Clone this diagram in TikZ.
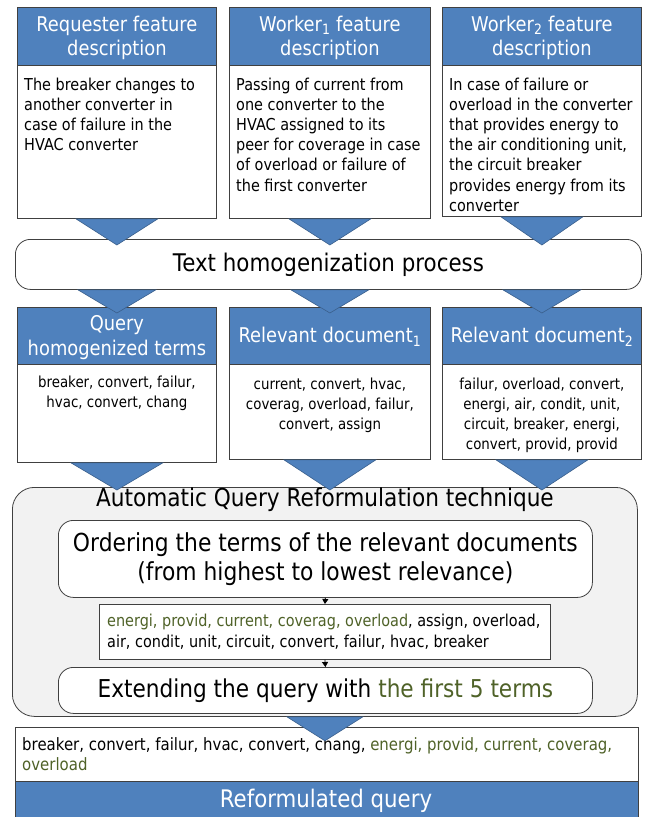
\documentclass[tikz,border=0pt]{standalone}
\usepackage{fontspec}
\setmainfont[FakeStretch=0.88]{DejaVu Sans}
\usetikzlibrary{arrows.meta,calc}
\definecolor{hblue}{HTML}{4F81BD}
\definecolor{tedge}{HTML}{3A5F8C}
\definecolor{tgreen}{HTML}{4F6228}
\definecolor{edge}{HTML}{404040}
\definecolor{lgray}{HTML}{F2F2F2}
\begin{document}
\begin{tikzpicture}[x=1pt,y=-1pt,
  hdr/.style={draw=edge, fill=hblue, text=white, line width=0.8pt, inner sep=0pt,
    align=center, anchor=north west, font=\fontsize{20.3}{24.5}\selectfont},
  bodybox/.style={draw=edge, fill=white, line width=0.8pt, inner sep=0pt, anchor=north west},
  btext/.style={inner sep=0pt, align=left, anchor=north west, font=\fontsize{16.4}{20.2}\selectfont},
  ttext/.style={inner sep=0pt, align=center, anchor=north, font=\fontsize{15.2}{19.8}\selectfont},
  rbox/.style={draw=edge, fill=white, rounded corners=15pt, line width=0.8pt, inner sep=0pt, anchor=north west},
  tri/.style={fill=hblue, draw=tedge, line width=0.6pt, line join=miter},
  small/.style={-{Triangle[width=6pt,length=5pt]}, line width=0.8pt, black}
]
\useasboundingbox (0,0) rectangle (650,817);
\fill[white] (0,0) rectangle (650,817);

% ---- first row
\node[hdr, minimum width=199pt, minimum height=58pt] (h1) at (17,7) {\rule{0pt}{18pt}Requester feature\\description};
\node[hdr, minimum width=201pt, minimum height=58pt] (h2) at (229,7) {\rule{0pt}{18pt}Worker\textsubscript{1} feature\\description};
\node[hdr, minimum width=199pt, minimum height=58pt] (h3) at (442,7) {\rule{0pt}{18pt}Worker\textsubscript{2} feature\\description};
\node[bodybox, minimum width=199pt, minimum height=153pt] (b1) at (17,65) {};
\node[bodybox, minimum width=201pt, minimum height=153pt] (b2) at (229,65) {};
\node[bodybox, minimum width=199pt, minimum height=151pt] (b3) at (442,65) {};
\node[btext] (t1) at ($(b1.north west)+(7,12.5)$) {The breaker changes to\\another converter in\\case of failure in the\\HVAC converter};
\node[btext] (t2) at ($(b2.north west)+(7,12.5)$) {Passing of current from\\one converter to the\\HVAC assigned to its\\peer for coverage in case\\of overload or failure of\\the first converter};
\node[btext] (t3) at ($(b3.north west)+(7,12.5)$) {In case of failure or\\overload in the converter\\that provides energy to\\the air conditioning unit,\\the circuit breaker\\provides energy from its\\converter};

% ---- text homogenization
\node[rbox, minimum width=626pt, minimum height=50pt, font=\fontsize{24.3}{28}\selectfont] (th) at (15,239) {Text homogenization process};

% ---- second row
\node[hdr, minimum width=199pt, minimum height=57pt] (h4) at (17,307) {\rule{0pt}{18pt}Query\\homogenized terms};
\node[hdr, minimum width=201pt, minimum height=57pt] (h5) at (229,307) {\rule{0pt}{17pt}Relevant document\textsubscript{1}};
\node[hdr, minimum width=199pt, minimum height=57pt] (h6) at (442,307) {\rule{0pt}{17pt}Relevant document\textsubscript{2}};
\node[bodybox, minimum width=199pt, minimum height=98pt] (b4) at (17,364) {};
\node[bodybox, minimum width=201pt, minimum height=95pt] (b5) at (229,364) {};
\node[bodybox, minimum width=199pt, minimum height=95pt] (b6) at (442,364) {};
\node[ttext] (t4) at ($(b4.north)+(0,12)$) {breaker, convert, failur,\\hvac, convert, chang};
\node[ttext] (t5) at ($(b5.north)+(0,14)$) {current, convert, hvac,\\coverag, overload, failur,\\convert, assign};
\node[ttext] (t6) at ($(b6.north)+(0,14)$) {failur, overload, convert,\\energi, air, condit, unit,\\circuit, breaker, energi,\\convert, provid, provid};

% ---- automatic query reformulation
\node[draw=edge, fill=lgray, rounded corners=22pt, line width=0.8pt, inner sep=0pt,
  anchor=north west, minimum width=625pt, minimum height=229pt] (arq) at (12,487) {};
\node[inner sep=0pt, anchor=north, font=\fontsize{24.6}{28}\selectfont] (arqt) at ($(arq.north)+(0,1)$) {Automatic Query Reformulation technique};
\node[rbox, minimum width=534pt, minimum height=77pt, align=center,
  font=\fontsize{24.8}{29}\selectfont] (ord) at (58,520) {Ordering the terms of the relevant documents\\(from highest to lowest relevance)};
\node[draw=edge, fill=white, line width=0.8pt, inner sep=0pt, anchor=north west,
  minimum width=451pt, minimum height=55pt] (lst) at (99,604) {};
\node[btext, font=\fontsize{16.4}{21}\selectfont] (lstt) at ($(lst.north west)+(8,10)$) {\textcolor{tgreen}{energi, provid, current, coverag, overload}, assign, overload,\\air, condit, unit, circuit, convert, failur, hvac, breaker};
\node[rbox, minimum width=534pt, minimum height=46pt, font=\fontsize{24.6}{29}\selectfont] (ext) at (58,667) {Extending the query with \textcolor{tgreen}{the first 5 terms}};
\draw[small] (ord.south) -- (lst.north);
\draw[small] (lst.south) -- (ext.north);

% ---- result
\node[bodybox, minimum width=623pt, minimum height=54pt] (res) at (15,727) {};
\node[btext, font=\fontsize{17}{20.5}\selectfont] (rest) at ($(res.north west)+(7,10)$) {breaker, convert, failur, hvac, convert, chang, \textcolor{tgreen}{energi, provid, current, coverag,}\\\textcolor{tgreen}{overload}};
\node[draw=edge, fill=hblue, line width=0.8pt, inner sep=0pt, anchor=north west,
  minimum width=623pt, minimum height=40pt] (rq) at (15,781) {};
\node[text=white, inner sep=0pt, font=\fontsize{24.2}{28}\selectfont] (rqt) at (326,801) {Reformulated query};

% ---- connector triangles
\foreach \b/\t in {b1/th, b2/th, b3/th}{
  \draw[tri] ($(\b.south)+(-41,0)$) -- ($(\b.south)+(41,0)$) -- ($(\b.south |- \t.north)+(0,6)$) -- cycle;
}
\foreach \b/\t in {h4/th, h5/th, h6/th}{
  \draw[tri] ($(\t.south -| \b.north)+(-39,0)$) -- ($(\t.south -| \b.north)+(39,0)$) -- ($(\b.north)+(0,6)$) -- cycle;
}
\foreach \b/\t in {b4/arq, b5/arq, b6/arq}{
  \draw[tri] ($(\b.south)+(-46,0)$) -- ($(\b.south)+(46,0)$) -- ($(\b.south |- \t.north)+(0,3)$) -- cycle;
}
\draw[tri] ($(arq.south)+(-38,0)$) -- ($(arq.south)+(38,0)$) -- ($(arq.south)+(0,24)$) -- cycle;
\end{tikzpicture}
\end{document}
